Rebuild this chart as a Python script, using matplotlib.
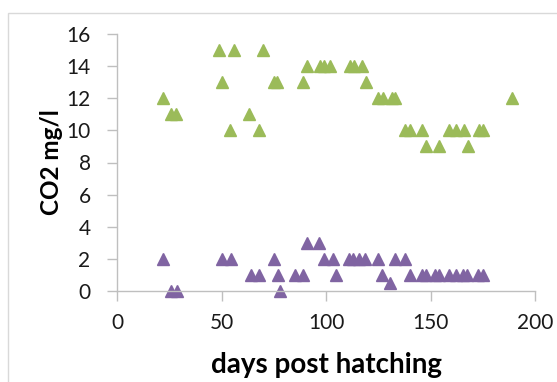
import matplotlib.pyplot as plt

# Data
green_days = [22, 26, 28, 49, 50, 54, 56, 63, 68, 70, 75, 76.5, 89, 91, 97, 99, 102,
              111.5, 113.5, 117, 119, 125, 127.5, 131.5, 133, 138, 140, 146, 148, 154,
              159, 162, 166, 168, 173, 175, 189]
green_co2 = [12, 11, 11, 15, 13, 10, 15, 11, 10, 15, 13, 13, 13, 14, 14, 14, 14,
             14, 14, 14, 13, 12, 12, 12, 12, 10, 10, 10, 9, 9,
             10, 10, 10, 9, 10, 10, 12]

purple_days = [22, 26, 28.5, 50, 54.5, 64, 68, 75, 77, 78, 85, 89, 91, 96.5, 99, 103.5,
               105, 111, 113, 116, 118.7, 125, 127, 130.6, 133, 138, 140, 146, 148, 152,
               154, 159, 162, 165.5, 167.5, 172.5, 175]
purple_co2 = [2, 0, 0, 2, 2, 1, 1, 2, 1, 0, 1, 1, 3, 3, 2, 2,
              1, 2, 2, 2, 2, 2, 1, 0.5, 2, 2, 1, 1, 1, 1,
              1, 1, 1, 1, 1, 1, 1]

x_ticks = [0, 50, 100, 150, 200]
y_ticks = [0, 2, 4, 6, 8, 10, 12, 14, 16]

plt.rcParams['font.family'] = ['Lato', 'DejaVu Sans']

fig = plt.figure(figsize=(5.57, 3.82), dpi=100)
ax = fig.add_axes([117 / 557, 1 - 291 / 382, 418 / 557, 257 / 382])

# outer chart border like the Excel chart area
fig.patches.append(plt.Rectangle((8 / 557, -0.01), 1.0, 1 - 13 / 382 + 0.01,
                                 transform=fig.transFigure, fill=False,
                                 edgecolor='#d9d9d9', linewidth=1))

ax.plot(green_days, green_co2, '^', color='#9bbb59', markersize=8, clip_on=False)
ax.plot(purple_days, purple_co2, '^', color='#8064a2', markersize=8, clip_on=False)

ax.set_xlim(0, 200)
ax.set_ylim(0, 16)
ax.set_xticks(x_ticks)
ax.set_yticks(y_ticks)

for s in ['top', 'right']:
    ax.spines[s].set_visible(False)
for s in ['left', 'bottom']:
    ax.spines[s].set_color('#bfbfbf')
    ax.spines[s].set_linewidth(1)

ax.tick_params(axis='both', colors='#bfbfbf', length=7, width=1, labelsize=15,
               labelcolor='#1a1a1a', direction='out')
ax.tick_params(axis='y', pad=12)
ax.tick_params(axis='x', pad=9)

ax.set_xlabel('days post hatching', fontsize=20, fontweight='bold')
ax.set_ylabel('CO2 mg/l', fontsize=17.5, fontweight='bold')
ax.xaxis.set_label_coords(0.5, -0.237)
ax.yaxis.set_label_coords(-0.13, 0.5)

fig.savefig('out.png', dpi=100)
